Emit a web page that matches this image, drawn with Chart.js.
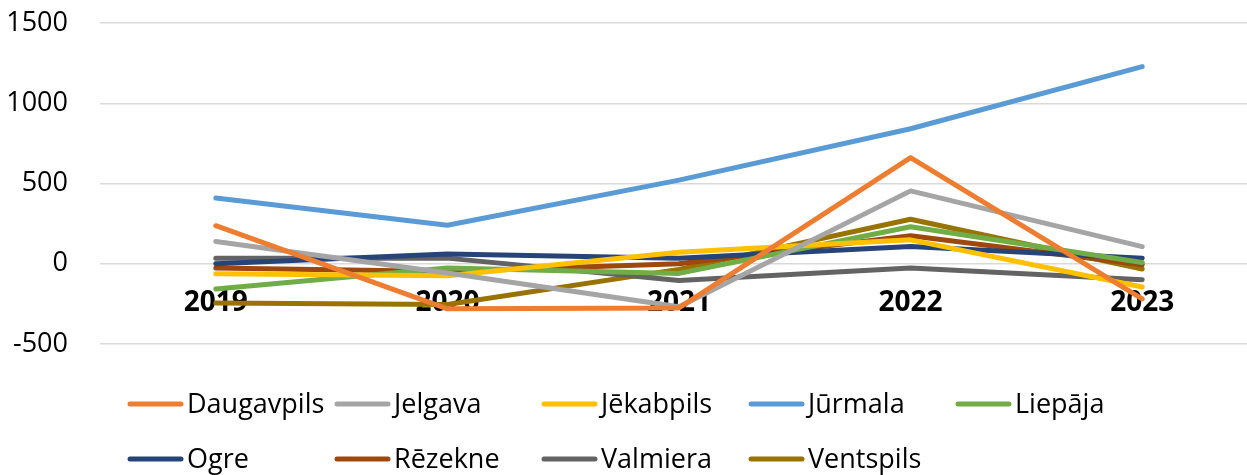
<!DOCTYPE html>
<html>
<head>
<meta charset="utf-8">
<script src="https://cdn.jsdelivr.net/npm/chart.js@4.4.1/dist/chart.umd.min.js"></script>
<style>
  html, body { margin: 0; padding: 0; background: #fff; overflow: hidden; }
  #wrap { width: 1247px; height: 475px; overflow: hidden; position: relative; }
  #box { width: 1258px; height: 475px; position: absolute; left: 0; top: 0; }
</style>
</head>
<body>
<div id="wrap"><div id="box"><canvas id="c"></canvas></div></div>
<script>
const years = ['2019', '2020', '2021', '2022', '2023'];
const yTicks = [-500, 0, 500, 1000, 1500];

const daugavpils = [237, -281, -275, 661, -219];
const jelgava    = [139, -58, -268, 454, 107];
const jekabpils  = [-62, -75, 72, 149, -145];
const jurmala    = [409, 240, 521, 841, 1228];
const liepaja    = [-158, -27, -60, 231, 8];
const ogre       = [0, 60, 35, 107, 35];
const rezekne    = [-27, -48, 0, 174, -6];
const valmiera   = [35, 35, -105, -27, -99];
const ventspils  = [-245, -254, -35, 277, -33];

const names  = ['Daugavpils', 'Jelgava', 'Jēkabpils', 'Jūrmala', 'Liepāja', 'Ogre', 'Rēzekne', 'Valmiera', 'Ventspils'];
const series = [daugavpils, jelgava, jekabpils, jurmala, liepaja, ogre, rezekne, valmiera, ventspils];
const colors = ['#ED7D31', '#A5A5A5', '#FFC000', '#5B9BD5', '#70AD47', '#264478', '#9E480E', '#636363', '#997300'];

const FONT = '"Open Sans", "Noto Sans", sans-serif';

const legendPlugin = {
  id: 'gridLegend',
  afterDraw(chart) {
    const ctx = chart.ctx;
    ctx.save();
    chart.data.datasets.forEach((ds, i) => {
      const col = i % 5, row = Math.floor(i / 5);
      const x0 = 128 + 207 * col;
      const y0 = 404 + 55 * row;
      ctx.strokeStyle = ds.borderColor;
      ctx.lineWidth = 5;
      ctx.lineCap = 'round';
      ctx.beginPath();
      ctx.moveTo(x0 + 2, y0);
      ctx.lineTo(x0 + 53, y0);
      ctx.stroke();
      ctx.fillStyle = '#000';
      ctx.font = '27px ' + FONT;
      ctx.textBaseline = 'middle';
      ctx.textAlign = 'left';
      ctx.fillText(ds.label, x0 + 59, y0 + 1);
    });
    ctx.restore();
  }
};

new Chart(document.getElementById('c'), {
  type: 'line',
  data: {
    labels: years,
    datasets: series.map((d, i) => ({
      label: names[i],
      data: d,
      borderColor: colors[i],
      backgroundColor: colors[i],
      borderWidth: 5,
      borderCapStyle: 'round',
      borderJoinStyle: 'round',
      pointRadius: 0,
      tension: 0,
      fill: false
    }))
  },
  options: {
    responsive: true,
    maintainAspectRatio: false,
    animation: false,
    layout: { padding: { top: 23, bottom: 131, left: 0, right: 0 } },
    plugins: { legend: { display: false }, tooltip: { enabled: false } },
    scales: {
      x: {
        type: 'category',
        position: { y: 0 },
        offset: true,
        afterFit(scale) { scale.height = 0; },
        grid: { display: false, drawTicks: false },
        border: { display: false },
        ticks: {
          color: '#000',
          padding: 22,
          font: { family: FONT, size: 28, weight: 'bold' },
          maxRotation: 0
        }
      },
      y: {
        min: -500,
        max: 1500,
        afterBuildTicks(scale) { scale.ticks = yTicks.map(v => ({ value: v })); },
        afterFit(scale) { scale.width = 100; scale.paddingTop = 0; scale.paddingBottom = 0; },
        grid: { color: '#D9D9D9', lineWidth: 1.5, drawTicks: false },
        border: { display: false },
        ticks: {
          color: '#000',
          padding: 32,
          font: { family: FONT, size: 27 },
          callback: v => String(v)
        }
      }
    }
  },
  plugins: [legendPlugin]
});
</script>
</body>
</html>
